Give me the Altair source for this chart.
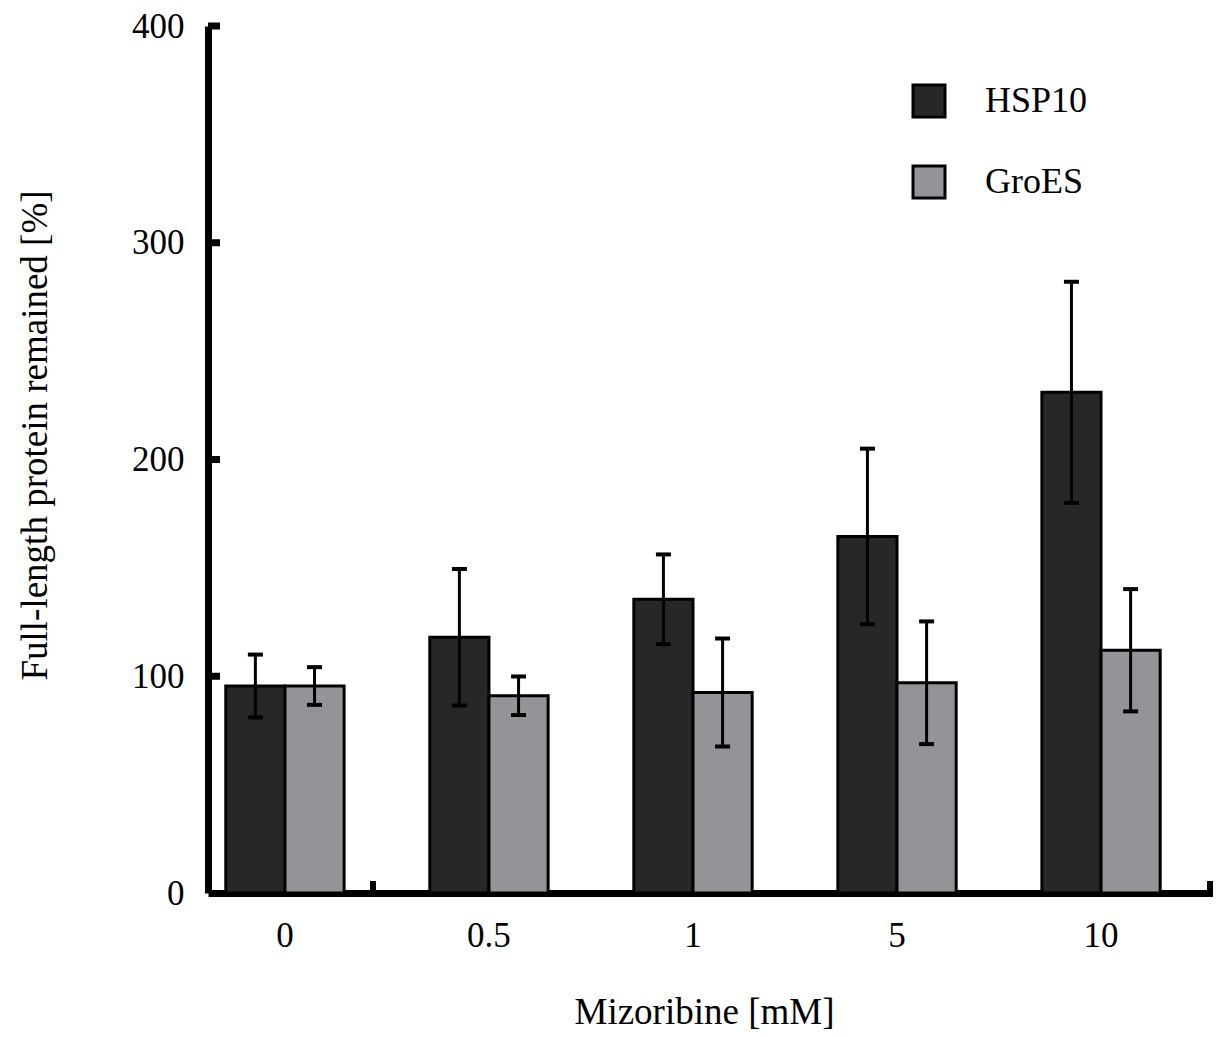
import altair as alt
import pandas as pd

doses = ["0", "0.5", "1", "5", "10"]
series = ["HSP10", "GroES"]
hsp10_mean = [95.5, 118.0, 135.5, 164.5, 231.0]
hsp10_err = [14.5, 31.5, 20.7, 40.5, 51.0]
groes_mean = [95.5, 91.0, 92.5, 97.0, 112.0]
groes_err = [8.7, 8.9, 24.9, 28.3, 28.2]
y_ticks = [100, 200, 300, 400]
colors = ["#262828", "#949397"]

rows = []
for i, d in enumerate(doses):
    rows.append({"dose": d, "series": "HSP10", "mean": hsp10_mean[i], "err": hsp10_err[i]})
    rows.append({"dose": d, "series": "GroES", "mean": groes_mean[i], "err": groes_err[i]})
df = pd.DataFrame(rows)
df["lo"] = df["mean"] - df["err"]
df["hi"] = df["mean"] + df["err"]

FONT = "Liberation Serif"
W, H = 1005, 867
TOP = 18

xenc = alt.X(
    "dose:N", sort=doses,
    scale=alt.Scale(paddingInner=0.42, paddingOuter=0.173, align=0.252),
    axis=alt.Axis(
        title="Mizoribine [mM]", labelAngle=0, ticks=False, tickSize=0,
        labelPadding=42, labelBaseline="middle",
        labelFont=FONT, labelFontSize=35, labelColor="black",
        domainColor="black", domainWidth=7, grid=False,
        titleFont=FONT, titleFontSize=37, titleFontWeight="normal", titleColor="black",
        titleX=496, titleY=119, titleBaseline="middle",
    ),
)
yscale = alt.Scale(domain=[0, 400], nice=False, zero=True)
yaxis = alt.Axis(
    title="Full-length protein remained [%]", values=[0, 100, 200, 300, 400],
    ticks=False, tickSize=0, labelPadding=24, grid=False,
    labelFont=FONT, labelFontSize=35, labelColor="black",
    domainColor="black", domainWidth=7,
    titleFont=FONT, titleFontSize=37, titleFontWeight="normal", titleColor="black",
    titleX=-173, titleY=409, titleBaseline="middle", titleAlign="center",
)
xoff = alt.XOffset("series:N", sort=series, scale=alt.Scale(paddingInner=0, paddingOuter=0))
xplain = alt.X("dose:N", sort=doses)

base = alt.Chart(df)

bars = base.mark_bar(stroke="black", strokeWidth=3, opacity=1).encode(
    x=xenc,
    xOffset=xoff,
    y=alt.Y("mean:Q", scale=yscale, axis=yaxis),
    color=alt.Color(
        "series:N", sort=series,
        scale=alt.Scale(domain=series, range=colors),
        legend=alt.Legend(
            orient="none", legendX=703, legendY=57, title=None,
            symbolType="square", symbolSize=1024, symbolStrokeColor="black",
            symbolStrokeWidth=3, symbolOpacity=1,
            labelFont=FONT, labelFontSize=36, labelColor="black",
            labelOffset=38, rowPadding=37, padding=0,
        ),
    ),
)

err = base.mark_rule(color="black", strokeWidth=3, opacity=1).encode(
    x=xplain,
    xOffset=xoff,
    y=alt.Y("lo:Q"),
    y2="hi:Q",
)
cap_hi = base.mark_tick(color="black", thickness=4, size=15, opacity=1).encode(
    x=xplain, xOffset=xoff, y=alt.Y("hi:Q")
)
cap_lo = base.mark_tick(color="black", thickness=4, size=15, opacity=1).encode(
    x=xplain, xOffset=xoff, y=alt.Y("lo:Q")
)

yt = alt.Chart(pd.DataFrame({"v": y_ticks})).mark_tick(
    color="black", thickness=7, size=12, orient="horizontal", opacity=1
).encode(
    y=alt.Y("v:Q"), x=alt.value(6)
)
xt1 = alt.Chart(pd.DataFrame({"a": [0]})).mark_rule(color="black", strokeWidth=6, opacity=1).encode(
    x=alt.value(165), y=alt.value(H - 12), y2=alt.value(H)
)
xt2 = alt.Chart(pd.DataFrame({"a": [0]})).mark_rule(color="black", strokeWidth=6, opacity=1).encode(
    x=alt.value(W - 3), y=alt.value(H - 12), y2=alt.value(H)
)

chart = alt.layer(bars, err, cap_hi, cap_lo, yt, xt1, xt2).properties(
    width=W, height=H,
    background="white",
    autosize=alt.AutoSizeParams(type="none"),
    padding={"left": 200, "top": TOP, "right": 0, "bottom": 137},
).configure_view(stroke=None).configure_axis(grid=False)

chart.save("out.html", embed_options={"renderer": "svg", "actions": False})
